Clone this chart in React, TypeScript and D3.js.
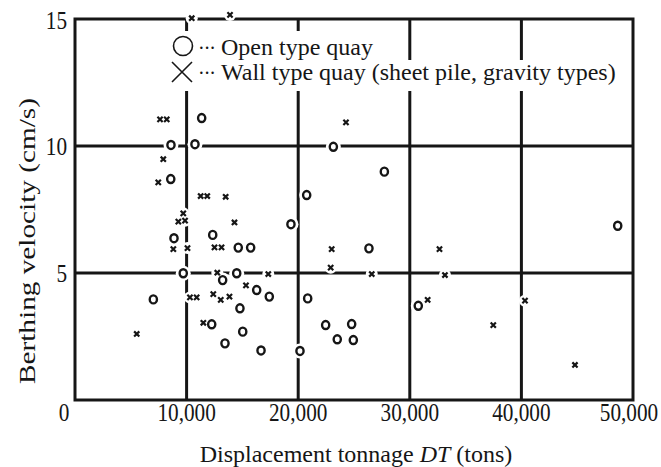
import React, { useRef, useEffect } from "react";
import * as d3 from "d3";

// open type quay (circles): [displacement tonnage, berthing velocity]
const openQuay: [number, number][] = [
  [11350, 11.1], [8600, 10.04], [10750, 10.07], [8580, 8.7], [8870, 6.37],
  [12340, 6.5], [14630, 6.0], [15740, 6.0], [9700, 4.99], [13230, 4.72],
  [14490, 4.99], [16280, 4.33], [17410, 4.07], [7020, 3.96], [14780, 3.61],
  [12250, 2.98], [15030, 2.69], [13440, 2.23], [16670, 1.95], [23150, 9.97],
  [27720, 8.99], [20760, 8.07], [19350, 6.92], [26340, 5.97], [20850, 4.0],
  [20160, 1.93], [22460, 2.95], [24790, 2.99], [23500, 2.39], [24940, 2.36],
  [30760, 3.71], [48630, 6.86],
];

// wall type quay (crosses)
const wallQuay: [number, number][] = [
  [10460, 15.03], [13890, 15.16], [7620, 11.05], [8220, 11.05], [7910, 9.48],
  [7460, 8.57], [11260, 8.03], [11850, 8.03], [13500, 8.0], [9700, 7.35],
  [9260, 7.02], [9860, 7.06], [14290, 6.99], [8810, 5.94], [10080, 5.98],
  [12500, 6.01], [13130, 6.01], [12750, 5.01], [15320, 4.51], [10300, 4.04],
  [10900, 4.04], [12390, 4.17], [13060, 3.94], [13840, 4.07], [11500, 3.04],
  [5530, 2.6], [24280, 10.93], [23000, 5.94], [32660, 5.94], [17320, 4.96],
  [22910, 5.21], [26590, 4.96], [33150, 4.92], [31600, 3.94], [40320, 3.91],
  [37480, 2.95], [44800, 1.38],
];

const xTicks = [10000, 20000, 30000, 40000, 50000];
const yTicks = [5, 10, 15];
const legendLabels = ["Open type quay", "Wall type quay (sheet pile, gravity types)"];

export default function App() {
  const ref = useRef<SVGSVGElement>(null);

  const width = 661;
  const height = 467;
  const font = "'Liberation Serif', 'Times New Roman', serif";
  const ink = "#161616";

  useEffect(() => {
    const svg = d3.select(ref.current);
    svg.selectAll("*").remove();

    const x = d3.scaleLinear().domain([0, 50000]).range([75, 633]);
    const y = d3.scaleLinear().domain([0, 15]).range([400, 19]);

    // grid
    const grid = svg.append("g").attr("stroke", ink).attr("stroke-width", 3);
    grid
      .selectAll("line.v")
      .data(xTicks.slice(0, -1))
      .join("line")
      .attr("x1", (d) => x(d))
      .attr("x2", (d) => x(d))
      .attr("y1", y(0))
      .attr("y2", y(15));
    grid
      .selectAll("line.h")
      .data(yTicks.slice(0, -1))
      .join("line")
      .attr("x1", x(0))
      .attr("x2", x(50000))
      .attr("y1", (d) => y(d))
      .attr("y2", (d) => y(d));
    grid
      .append("rect")
      .attr("x", x(0))
      .attr("y", y(15))
      .attr("width", x(50000) - x(0))
      .attr("height", y(0) - y(15))
      .attr("fill", "none");

    // tick labels
    const fmt = d3.format(",");
    svg
      .append("g")
      .selectAll("text")
      .data(xTicks)
      .join("text")
      .attr("transform", (d) => `translate(${x(d) - (d === 50000 ? 4 : 0)},421) scale(0.85,1)`)
      .attr("text-anchor", "middle")
      .attr("font-family", font)
      .attr("font-size", 25)
      .attr("fill", ink)
      .text((d) => fmt(d));
    svg
      .append("text")
      .attr("transform", `translate(${x(0) - 11},421) scale(0.85,1)`)
      .attr("text-anchor", "middle")
      .attr("font-family", font)
      .attr("font-size", 25)
      .attr("fill", ink)
      .text("0");
    svg
      .append("g")
      .selectAll("text")
      .data(yTicks)
      .join("text")
      .attr("transform", (d) => `translate(67,${y(d) + (d === 15 ? 10 : 9)}) scale(0.85,1)`)
      .attr("text-anchor", "end")
      .attr("font-family", font)
      .attr("font-size", 25)
      .attr("fill", ink)
      .text((d) => d);

    // axis titles
    const xt = svg
      .append("text")
      .attr("x", 356)
      .attr("y", 462)
      .attr("text-anchor", "middle")
      .attr("font-family", font)
      .attr("font-size", 24)
      .attr("fill", ink);
    xt.append("tspan").text("Displacement tonnage ");
    xt.append("tspan").attr("font-style", "italic").text("DT");
    xt.append("tspan").text(" (tons)");

    svg
      .append("text")
      .attr("transform", `translate(35,241) rotate(-90)`)
      .attr("text-anchor", "middle")
      .attr("font-family", font)
      .attr("font-size", 23)
      .attr("textLength", 286)
      .attr("lengthAdjust", "spacingAndGlyphs")
      .attr("fill", ink)
      .text("Berthing velocity (cm/s)");

    // legend
    const lg = svg.append("g");
    lg.append("rect").attr("x", 168).attr("y", 31).attr("width", 212).attr("height", 31).attr("fill", "#fff");
    lg.append("rect").attr("x", 168).attr("y", 60).attr("width", 460).attr("height", 31).attr("fill", "#fff");
    lg.append("circle")
      .attr("cx", 183)
      .attr("cy", 46)
      .attr("r", 9.5)
      .attr("fill", "none")
      .attr("stroke", ink)
      .attr("stroke-width", 1.6);
    lg.append("path")
      .attr("d", "M172,62L192,82M192,62L172,82")
      .attr("fill", "none")
      .attr("stroke", ink)
      .attr("stroke-width", 1.6);
    lg.selectAll("text.dots")
      .data(legendLabels)
      .join("text")
      .attr("x", 198)
      .attr("y", (d, i) => 55 + i * 25)
      .attr("font-family", font)
      .attr("font-size", 20)
      .attr("letter-spacing", -1)
      .attr("fill", ink)
      .text("···");
    lg.selectAll("text.lab")
      .data(legendLabels)
      .join("text")
      .attr("x", 221)
      .attr("y", (d, i) => 55 + i * 25)
      .attr("font-family", font)
      .attr("font-size", 24)
      .attr("fill", ink)
      .text((d) => d);

    // white halos so the grid breaks around the marks
    const halo = svg.append("g").attr("fill", "#fff");
    halo
      .selectAll("circle.o")
      .data(openQuay)
      .join("circle")
      .attr("cx", (d) => x(d[0]))
      .attr("cy", (d) => y(d[1]))
      .attr("r", 7.5);
    halo
      .selectAll("circle.x")
      .data(wallQuay)
      .join("circle")
      .attr("cx", (d) => x(d[0]))
      .attr("cy", (d) => y(d[1]))
      .attr("r", 6);

    svg
      .append("g")
      .selectAll("ellipse")
      .data(openQuay)
      .join("ellipse")
      .attr("cx", (d) => x(d[0]))
      .attr("cy", (d) => y(d[1]))
      .attr("rx", 3.6)
      .attr("ry", 4)
      .attr("fill", "#fff")
      .attr("stroke", ink)
      .attr("stroke-width", 2.4);

    const s = 2.6;
    svg
      .append("g")
      .selectAll("path")
      .data(wallQuay)
      .join("path")
      .attr("d", (d) => {
        const cx = x(d[0]);
        const cy = y(d[1]);
        return `M${cx - s},${cy - s}L${cx + s},${cy + s}M${cx + s},${cy - s}L${cx - s},${cy + s}`;
      })
      .attr("stroke", ink)
      .attr("stroke-width", 2.2)
      .attr("fill", "none");
  }, []);

  return (
    <div style={{ position: "absolute", left: 0, top: 0 }}>
      <svg ref={ref} width={width} height={height} style={{ display: "block", background: "#fff" }} />
    </div>
  );
}
